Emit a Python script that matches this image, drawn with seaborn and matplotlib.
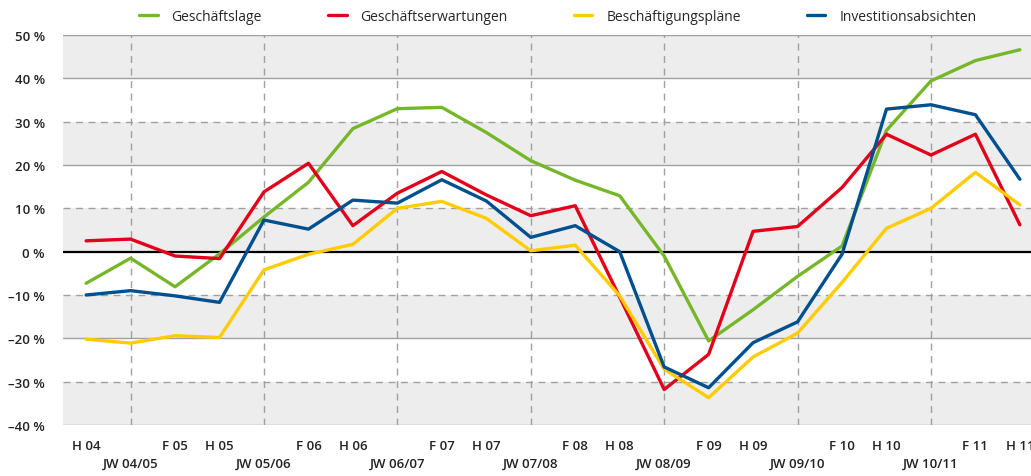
import numpy as np
import pandas as pd
import matplotlib
matplotlib.use('Agg')
import matplotlib.pyplot as plt
import seaborn as sns

# Zeitpunkte (H = Herbst, JW = Jahreswechsel, F = Frühjahr)
perioden = ['H 04', 'JW 04/05', 'F 05', 'H 05', 'JW 05/06', 'F 06', 'H 06', 'JW 06/07',
            'F 07', 'H 07', 'JW 07/08', 'F 08', 'H 08', 'JW 08/09', 'F 09', 'H 09',
            'JW 09/10', 'F 10', 'H 10', 'JW 10/11', 'F 11', 'H 11']

geschaeftslage = [-7.3, -1.5, -8.1, -0.5, 8.0, 16.0, 28.4, 33.0, 33.3, 27.5, 21.0,
                  16.5, 12.9, -1.0, -20.6, -13.4, -5.7, 1.3, 28.0, 39.4, 44.1, 46.6]
geschaeftserwartungen = [2.5, 2.9, -1.0, -1.6, 13.8, 20.4, 6.0, 13.5, 18.5, 13.1, 8.3,
                         10.6, -10.5, -31.8, -23.7, 4.7, 5.8, 14.8, 27.1, 22.3, 27.1, 6.2]
beschaeftigungsplaene = [-20.2, -21.1, -19.4, -19.8, -4.2, -0.6, 1.7, 10.0, 11.6, 7.7, 0.2,
                         1.5, -10.2, -27.1, -33.7, -24.3, -18.8, -7.1, 5.4, 10.0, 18.3, 10.8]
investitionsabsichten = [-10.0, -9.0, -10.2, -11.7, 7.3, 5.2, 11.9, 11.2, 16.6, 11.7, 3.3,
                         6.0, 0.0, -26.6, -31.4, -21.0, -16.2, -0.6, 32.9, 33.9, 31.6, 16.7]

serien = {
    'Geschäftslage': geschaeftslage,
    'Geschäftserwartungen': geschaeftserwartungen,
    'Beschäftigungspläne': beschaeftigungsplaene,
    'Investitionsabsichten': investitionsabsichten,
}
farben = {
    'Geschäftslage': '#76b72a',
    'Geschäftserwartungen': '#e2001a',
    'Beschäftigungspläne': '#ffcc00',
    'Investitionsabsichten': '#004f8f',
}

y_ticks = [-40, -30, -20, -10, 0, 10, 20, 30, 40, 50]

# Daten in Long-Format bringen
rows = []
for name, werte in serien.items():
    for i, v in enumerate(werte):
        rows.append({'idx': i, 'wert': v, 'reihe': name})
df = pd.DataFrame(rows)

sns.set_style("white")
plt.rcParams['font.family'] = ['Open Sans', 'DejaVu Sans']
plt.rcParams['axes.unicode_minus'] = False

fig = plt.figure(figsize=(10.31, 4.77), dpi=100)
ax = fig.add_axes([63 / 1031, 1 - 426 / 477, 1 - 63 / 1031, (426 - 36) / 477])

# graue Bänder im Hintergrund
for lo in range(-40, 50, 20):
    ax.axhspan(lo, lo + 10, color='#ecedec', lw=0, zorder=0)

# horizontale Linien: durchgezogen bei 20er Schritten, gestrichelt dazwischen
for t in y_ticks:
    if t == 0:
        ax.axhline(t, color='black', lw=1.6, zorder=1)
    elif t % 20 == 0 or t == 50:
        ax.axhline(t, color='#a0a0a0', lw=1.0, zorder=1)
    else:
        ax.axhline(t, color='#a0a0a0', lw=1.0, ls=(0, (5, 4)), zorder=1)

# vertikale gestrichelte Linien an den Jahreswechseln
for i, p in enumerate(perioden):
    if p.startswith('JW'):
        ax.axvline(i, color='#a0a0a0', lw=1.0, ls=(0, (5, 4)), zorder=1)

sns.lineplot(data=df, x='idx', y='wert', hue='reihe', palette=farben,
             linewidth=2.4, ax=ax, zorder=3, legend=True)

ax.set_xlim(-0.52, 21.25)
ax.set_ylim(-40, 50)
ax.set_xlabel('')
ax.set_ylabel('')
for s in ax.spines.values():
    s.set_visible(False)

ax.set_yticks(y_ticks)
ax.set_yticklabels([f"{t} %".replace('-', '–') for t in y_ticks],
                   fontsize=9.5, fontweight='semibold', color='#222222')
ax.set_xticks(range(len(perioden)))
ax.set_xticklabels([('\n' + p) if p.startswith('JW') else p for p in perioden],
                   fontsize=9.5, fontweight='semibold', color='#222222', linespacing=1.45)
ax.tick_params(axis='y', length=0, pad=13)
ax.tick_params(axis='x', length=0, pad=10)

handles, labels = ax.get_legend_handles_labels()
ax.get_legend().remove()
fig.legend(handles, labels, loc='upper center', bbox_to_anchor=(558 / 1031, 1.0),
           ncol=4, frameon=False, fontsize=10, handlelength=1.3, handletextpad=1.0,
           columnspacing=4.8, borderaxespad=0.3)

fig.savefig('out.png', dpi=100)
